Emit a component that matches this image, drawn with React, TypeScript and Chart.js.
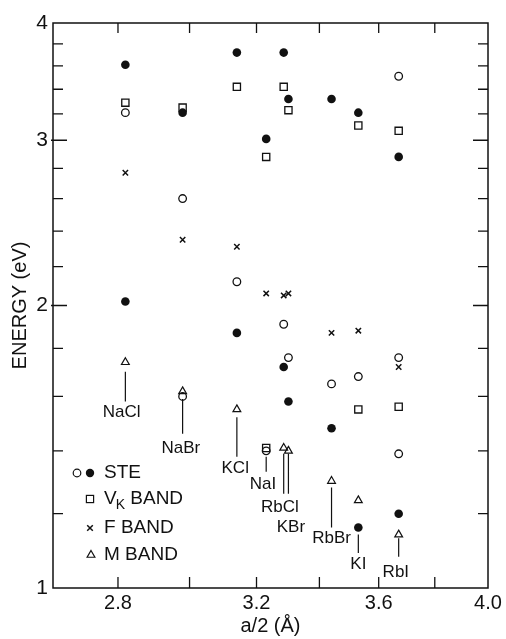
import React, { useEffect, useRef } from "react";
import { Chart, registerables } from "chart.js";

Chart.register(...registerables);

// ---------- data ----------
const compounds = ["NaCl", "NaBr", "KCl", "NaI", "RbCl", "KBr", "RbBr", "KI", "RbI"];
const halfLatticeConstant = [2.82, 2.98, 3.14, 3.23, 3.285, 3.3, 3.44, 3.53, 3.67];

const xTickLabels = [2.8, 3.2, 3.6, 4.0];
const xTickMarks = [2.8, 3.0, 3.2, 3.4, 3.6, 3.8];
const yTickLabels = [1, 2, 3, 4];
const yMinorTicks = [1.2, 1.4, 1.6, 1.8, 2.2, 2.4, 2.6, 2.8, 3.2, 3.4, 3.6, 3.8];
const xMin = 2.63;
const xMax = 4.0;
const yMin = 1;
const yMax = 4;

const steOpenCompound = ["NaCl", "NaBr", "NaBr", "KCl", "NaI", "RbCl", "KBr", "RbBr", "KI", "RbI", "RbI", "RbI"];
const steOpenEnergy = [3.21, 2.6, 1.6, 2.12, 1.4, 1.91, 1.76, 1.65, 1.68, 3.51, 1.76, 1.39];

const steFilledCompound = ["NaCl", "NaCl", "NaBr", "KCl", "KCl", "NaI", "RbCl", "RbCl", "KBr", "KBr", "RbBr", "RbBr", "KI", "KI", "RbI", "RbI"];
const steFilledEnergy = [3.61, 2.02, 3.21, 3.72, 1.87, 3.01, 3.72, 1.72, 3.32, 1.58, 3.32, 1.48, 3.21, 1.16, 2.88, 1.2];

const vkCompound = ["NaCl", "NaBr", "KCl", "NaI", "NaI", "RbCl", "KBr", "KI", "KI", "RbI", "RbI"];
const vkEnergy = [3.29, 3.25, 3.42, 2.88, 1.41, 3.42, 3.23, 3.11, 1.55, 3.07, 1.56];

const fCompound = ["NaCl", "NaBr", "KCl", "NaI", "RbCl", "KBr", "RbBr", "KI", "RbI"];
const fEnergy = [2.77, 2.35, 2.31, 2.06, 2.05, 2.06, 1.87, 1.88, 1.72];

const mCompound = ["NaCl", "NaBr", "KCl", "RbCl", "KBr", "RbBr", "KI", "RbI"];
const mEnergy = [1.74, 1.62, 1.55, 1.41, 1.4, 1.3, 1.24, 1.14];

// compound name tags: leader line (top/bottom energy) and text position
const tagLineTop = [1.7, 1.59, 1.52, 1.38, 1.39, 1.39, 1.28, 1.14, 1.13];
const tagLineBottom = [1.58, 1.46, 1.38, 1.33, 1.26, 1.26, 1.16, 1.09, 1.08];
const tagTextEnergy = [1.54, 1.41, 1.34, 1.29, 1.22, 1.16, 1.13, 1.06, 1.04];
const tagTextX = [2.81, 2.975, 3.135, 3.22, 3.273, 3.308, 3.44, 3.53, 3.66];

const FONT = "'Liberation Sans', Arial, sans-serif";
const INK = "#111";

function points(names: string[], energies: number[]) {
  return names.map((n, i) => ({ x: halfLatticeConstant[compounds.indexOf(n)], y: energies[i] }));
}

const decorPlugin = {
  id: "decor",
  afterDraw(chart: any) {
    const { ctx, chartArea: ca, scales } = chart;
    const xs = scales.x;
    const ys = scales.y;
    ctx.save();
    ctx.strokeStyle = INK;
    ctx.fillStyle = INK;
    ctx.lineWidth = 1.5;
    // frame
    ctx.strokeRect(ca.left, ca.top, ca.right - ca.left, ca.bottom - ca.top);
    // inward ticks
    ctx.lineWidth = 1.3;
    ctx.beginPath();
    for (const v of yMinorTicks) {
      const y = ys.getPixelForValue(v);
      ctx.moveTo(ca.left, y); ctx.lineTo(ca.left + 10, y);
      ctx.moveTo(ca.right, y); ctx.lineTo(ca.right - 10, y);
    }
    for (const v of yTickLabels) {
      if (v === yMin || v === yMax) continue;
      const y = ys.getPixelForValue(v);
      ctx.moveTo(ca.left - 2, y); ctx.lineTo(ca.left + 14, y);
      ctx.moveTo(ca.right, y); ctx.lineTo(ca.right - 15, y);
    }
    for (const v of xTickMarks) {
      const x = xs.getPixelForValue(v);
      ctx.moveTo(x, ca.top); ctx.lineTo(x, ca.top + 10);
      ctx.moveTo(x, ca.bottom); ctx.lineTo(x, ca.bottom - 11);
    }
    ctx.stroke();

    // compound tags
    ctx.font = `17px ${FONT}`;
    ctx.textAlign = "center";
    ctx.textBaseline = "middle";
    ctx.lineWidth = 1.2;
    ctx.beginPath();
    compounds.forEach((name, i) => {
      const x = xs.getPixelForValue(halfLatticeConstant[i]);
      ctx.moveTo(x, ys.getPixelForValue(tagLineTop[i]));
      ctx.lineTo(x, ys.getPixelForValue(tagLineBottom[i]));
    });
    ctx.stroke();
    compounds.forEach((name, i) => {
      ctx.fillText(name, xs.getPixelForValue(tagTextX[i]), ys.getPixelForValue(tagTextEnergy[i]));
    });

    // legend
    const mx1 = ca.left + 24;
    const mx2 = ca.left + 37;
    const tx = ca.left + 51;
    const rows = [ca.bottom - 115, ca.bottom - 89, ca.bottom - 60, ca.bottom - 33];
    ctx.lineWidth = 1.2;
    // STE
    ctx.beginPath(); ctx.arc(mx1, rows[0], 3.8, 0, Math.PI * 2); ctx.stroke();
    ctx.beginPath(); ctx.arc(mx2, rows[0], 4.2, 0, Math.PI * 2); ctx.fill();
    // VK square
    ctx.strokeRect(mx2 - 3.6, rows[1] - 3.6, 7.2, 7.2);
    // F cross
    ctx.beginPath();
    ctx.moveTo(mx2 - 2.8, rows[2] - 2.8); ctx.lineTo(mx2 + 2.8, rows[2] + 2.8);
    ctx.moveTo(mx2 + 2.8, rows[2] - 2.8); ctx.lineTo(mx2 - 2.8, rows[2] + 2.8);
    ctx.lineWidth = 1.5; ctx.stroke();
    // M triangle
    ctx.lineWidth = 1.2;
    const r = 4.5;
    ctx.beginPath();
    ctx.moveTo(mx2 + 1, rows[3] - r);
    ctx.lineTo(mx2 + 1 + r * Math.sin((2 * Math.PI) / 3), rows[3] - r * Math.cos((2 * Math.PI) / 3));
    ctx.lineTo(mx2 + 1 + r * Math.sin((4 * Math.PI) / 3), rows[3] - r * Math.cos((4 * Math.PI) / 3));
    ctx.closePath(); ctx.stroke();

    ctx.font = `19px ${FONT}`;
    ctx.textAlign = "left";
    ctx.fillText("STE", tx, rows[0]);
    ctx.fillText("V", tx, rows[1]);
    const vw = ctx.measureText("V").width;
    ctx.font = `14px ${FONT}`;
    ctx.fillText("K", tx + vw - 1, rows[1] + 6);
    const kw = ctx.measureText("K").width;
    ctx.font = `19px ${FONT}`;
    ctx.fillText(" BAND", tx + vw - 1 + kw, rows[1]);
    ctx.fillText("F BAND", tx, rows[2]);
    ctx.fillText("M BAND", tx, rows[3]);
    ctx.restore();
  },
};

export default function App() {
  const ref = useRef<HTMLCanvasElement | null>(null);
  useEffect(() => {
    if (!ref.current) return;
    const chart = new Chart(ref.current, {
      type: "scatter",
      data: {
        datasets: [
          {
            label: "STE (filled)",
            data: points(steFilledCompound, steFilledEnergy),
            pointStyle: "circle",
            pointRadius: 4.3,
            backgroundColor: INK,
            borderColor: INK,
            borderWidth: 0,
          },
          {
            label: "STE (open)",
            data: points(steOpenCompound, steOpenEnergy),
            pointStyle: "circle",
            pointRadius: 3.8,
            backgroundColor: "rgba(255,255,255,0)",
            borderColor: INK,
            borderWidth: 1.3,
          },
          {
            label: "VK BAND",
            data: points(vkCompound, vkEnergy),
            pointStyle: "rect",
            pointRadius: 5.1,
            backgroundColor: "rgba(255,255,255,0)",
            borderColor: INK,
            borderWidth: 1.3,
          },
          {
            label: "F BAND",
            data: points(fCompound, fEnergy),
            pointStyle: "crossRot",
            pointRadius: 3.8,
            backgroundColor: INK,
            borderColor: INK,
            borderWidth: 1.5,
          },
          {
            label: "M BAND",
            data: points(mCompound, mEnergy),
            pointStyle: "triangle",
            pointRadius: 4.5,
            backgroundColor: "rgba(255,255,255,0)",
            borderColor: INK,
            borderWidth: 1.2,
          },
        ],
      },
      options: {
        responsive: false,
        animation: false,
        events: [],
        layout: { padding: { left: 0, right: 18, top: 23, bottom: 0 } },
        plugins: { legend: { display: false }, tooltip: { enabled: false } },
        scales: {
          x: {
            type: "logarithmic",
            position: "bottom",
            min: xMin,
            max: xMax,
            afterBuildTicks: (s: any) => {
              s.ticks = xTickLabels.map((v) => ({ value: v }));
            },
            afterFit: (s: any) => {
              s.height = 51;
            },
            grid: { display: false, drawTicks: false },
            border: { display: false },
            ticks: {
              autoSkip: false,
              maxRotation: 0,
              padding: 3,
              color: INK,
              font: { family: FONT, size: 20 },
              callback: (v: any) => Number(v).toFixed(1),
            },
            title: {
              display: true,
              text: "a/2 (Å)",
              color: INK,
              font: { family: FONT, size: 20 },
              padding: { top: 0, bottom: 1 },
            },
          },
          y: {
            type: "logarithmic",
            position: "left",
            min: yMin,
            max: yMax,
            afterBuildTicks: (s: any) => {
              s.ticks = yTickLabels.map((v) => ({ value: v }));
            },
            afterFit: (s: any) => {
              s.width = 53;
            },
            grid: { display: false, drawTicks: false },
            border: { display: false },
            ticks: {
              autoSkip: false,
              padding: 5,
              color: INK,
              font: { family: FONT, size: 21 },
              callback: (v: any) => String(v),
            },
            title: {
              display: true,
              text: "ENERGY (eV)",
              color: INK,
              font: { family: FONT, size: 20 },
              padding: { top: 8, bottom: 0 },
            },
          },
        },
      },
      plugins: [decorPlugin],
    } as any);
    return () => chart.destroy();
  }, []);
  return (
    <div style={{ position: "absolute", left: 0, top: 0, width: 506, height: 639, background: "#fff" }}>
      <canvas ref={ref} width={506} height={639} style={{ display: "block" }} />
    </div>
  );
}
